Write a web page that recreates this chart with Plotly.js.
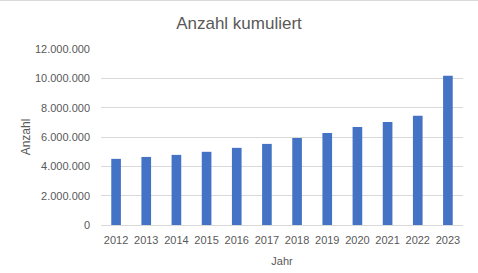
<!DOCTYPE html>
<html>
<head>
<meta charset="utf-8">
<script src="https://cdn.plot.ly/plotly-3.0.1.min.js"></script>
<style>
html,body{margin:0;padding:0;background:#fff;overflow:hidden;}
#chart{position:absolute;left:0;top:0;width:478px;height:273px;}
#topline{position:absolute;left:0;top:0;width:478px;height:1px;background:#d9d9d9;z-index:10;}
</style>
</head>
<body>
<div id="chart"></div>
<div id="topline"></div>
<script>
const years = ["2012","2013","2014","2015","2016","2017","2018","2019","2020","2021","2022","2023"];
const anzahl = [4510000,4640000,4780000,4990000,5260000,5530000,5940000,6280000,6690000,7030000,7450000,10180000];
const yTicks = [0,2000000,4000000,6000000,8000000,10000000,12000000];

const fontFam = "'Liberation Sans', Arial, sans-serif";
const txt = '#595959';

Plotly.newPlot('chart', [{
  type: 'bar',
  x: years,
  y: anzahl,
  marker: {color: '#4472C4'},
  hoverinfo: 'x+y'
}], {
  width: 478, height: 273,
  margin: {l: 101, r: 15, t: 49, b: 48, pad: 0},
  paper_bgcolor: '#fff', plot_bgcolor: '#fff',
  separators: ',.',
  font: {family: fontFam, color: txt, size: 11},
  bargap: 0.68,
  title: {text: 'Anzahl kumuliert', x: 0.5, xref: 'container', xanchor: 'center', y: 0.915, yref: 'container', yanchor: 'middle', font: {size: 17, color: txt, family: fontFam}},
  xaxis: {
    type: 'category',
    tickfont: {size: 11, color: txt},
    showgrid: false,
    showline: false,
    ticks: '',
    ticklabelstandoff: 7,
    title: {text: 'Jahr', font: {size: 11, color: txt}, standoff: 12}
  },
  yaxis: {
    range: [0, 12000000],
    tickvals: yTicks,
    tickformat: ',d',
    tickfont: {size: 11, color: txt},
    gridcolor: '#d9d9d9',
    gridwidth: 1,
    zeroline: true,
    zerolinecolor: '#d9d9d9',
    zerolinewidth: 1,
    showline: false,
    ticks: '',
    ticklabelstandoff: 10,
    title: {text: 'Anzahl', font: {size: 12, color: txt}, standoff: 1}
  },
  showlegend: false
}, {displayModeBar: false, staticPlot: true});
</script>
</body>
</html>
